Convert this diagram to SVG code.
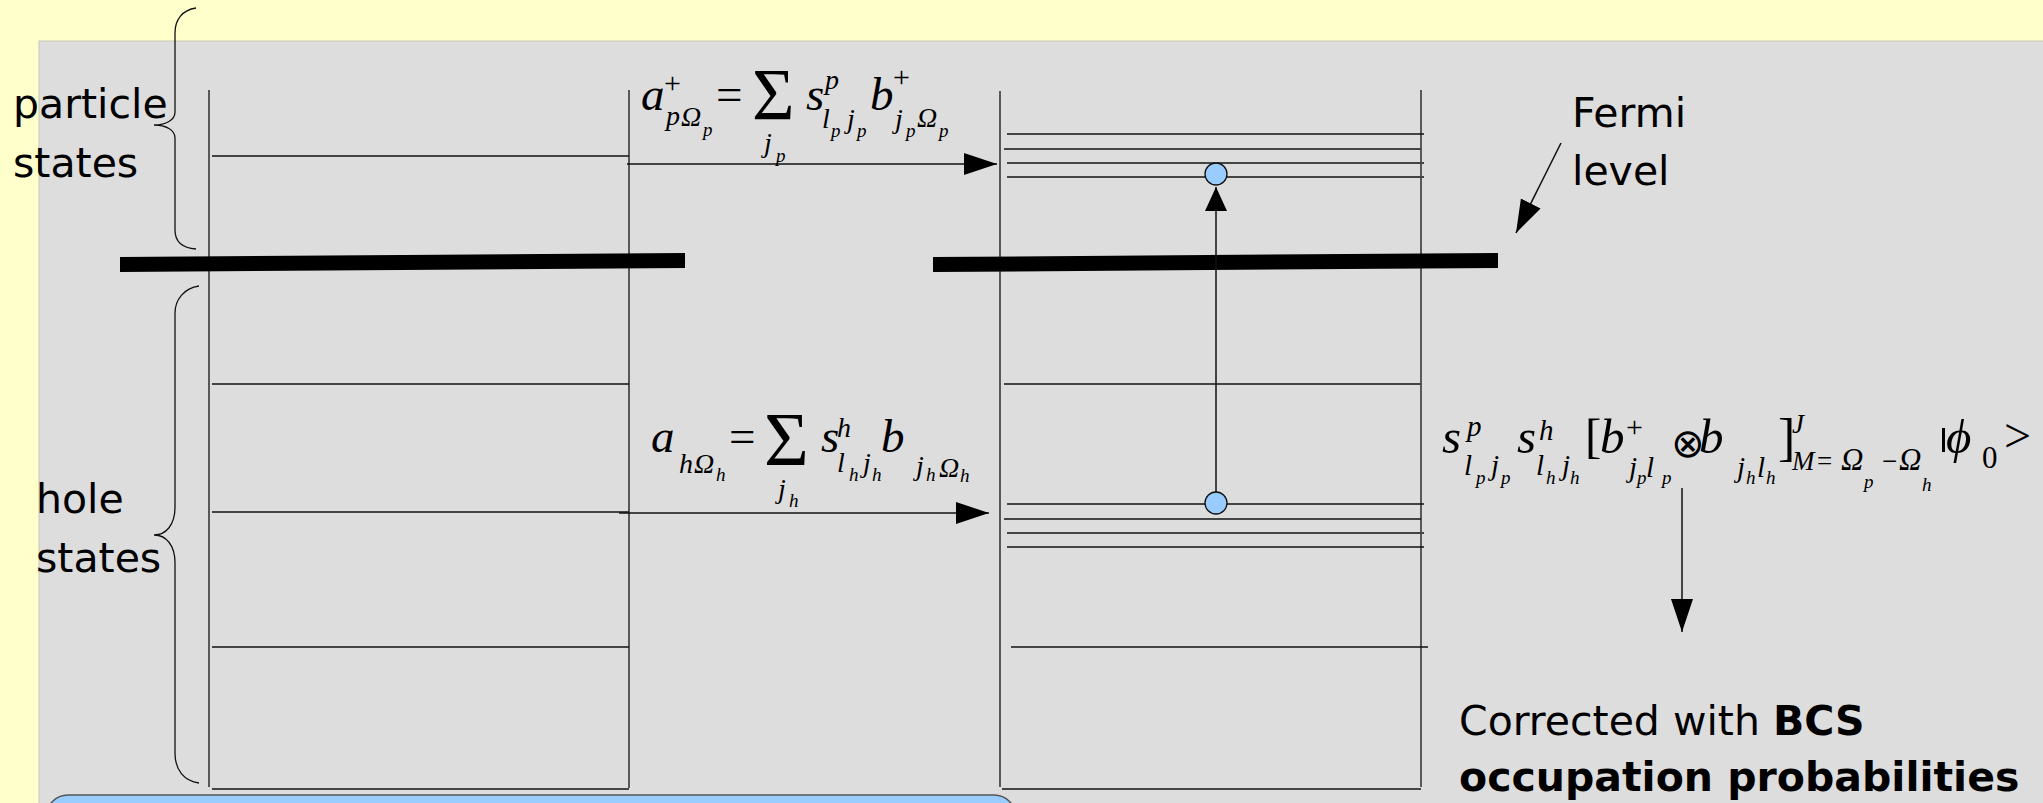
<svg xmlns="http://www.w3.org/2000/svg" width="2043" height="803" viewBox="0 0 2043 803">
<style>
.t{font-family:"DejaVu Sans",sans-serif;font-size:41px;fill:#000}
.bd{font-weight:bold}
.m{font-family:"Liberation Serif","DejaVu Serif",serif;font-style:italic;fill:#000}
.u{font-style:normal}
.ln{stroke:#111;stroke-width:1.3;fill:none}
.lg{stroke:#444;stroke-width:2;fill:none}
.br{stroke:#111;stroke-width:1.3;fill:none}
.bar{fill:#000}
.dot{fill:#99ccff;stroke:#111;stroke-width:1.3}
.ar{stroke:#111;stroke-width:1.5;fill:none}
</style>
<defs>
<marker id="ah" markerUnits="userSpaceOnUse" markerWidth="34" markerHeight="24" refX="33" refY="11" orient="auto">
<path d="M0,0 L33,11 L0,22 z" fill="#000"/>
</marker>
<marker id="ahs" markerUnits="userSpaceOnUse" markerWidth="26" markerHeight="24" refX="24" refY="11" orient="auto">
<path d="M0,0 L24,11 L0,22 z" fill="#000"/>
</marker>
</defs>
<rect x="0" y="0" width="2043" height="803" fill="#ffffcc"/>
<rect x="39" y="41" width="2010" height="770" fill="#dddddd" stroke="#c8c8b8" stroke-width="1"/>
<rect x="46" y="795" width="970" height="60" rx="22" fill="#99ccff" stroke="#555" stroke-width="1.5"/>

<g id="particle-label">
<text class="t" x="13" y="118">particle</text>
<text class="t" x="13" y="177">states</text>
<path class="br" d="M196,8 C182,10 175,20 175,33 L175,112 C175,120 166,125 154,125 C166,125 175,130 175,138 L175,230 C175,242 182,248 196,249"/>
</g>
<g id="hole-label">
<text class="t" x="36" y="513">hole</text>
<text class="t" x="36" y="572">states</text>
<path class="br" d="M199,286 C184,288 175,300 175,313 L175,507 C175,525 166,535 154,535 C166,535 175,545 175,563 L175,753 C175,770 184,781 199,783"/>
</g>

<g id="left-box">
<line class="ln" x1="209" y1="90" x2="209" y2="787"/>
<line class="ln" x1="629" y1="90" x2="629" y2="788"/>
<line class="ln" x1="212" y1="156" x2="629" y2="156"/>
<line class="ln" x1="212" y1="384" x2="629" y2="384" stroke-width="2"/>
<line class="ln" x1="212" y1="512" x2="629" y2="512"/>
<line class="ln" x1="212" y1="647" x2="629" y2="647"/>
<line class="ln" x1="212" y1="789" x2="629" y2="789" stroke-width="2"/>
<polygon class="bar" points="120,257 685,253 685,268 120,272"/>
</g>

<g id="right-box">
<line class="ln" x1="1000" y1="91" x2="1000" y2="787"/>
<line class="ln" x1="1421" y1="90" x2="1421" y2="787"/>
<line class="ln" x1="1007" y1="134" x2="1424" y2="134"/>
<line class="lg" x1="1004" y1="149" x2="1421" y2="149"/>
<line class="lg" x1="1007" y1="163" x2="1424" y2="163"/>
<line class="lg" x1="1007" y1="177" x2="1424" y2="177"/>
<line class="lg" x1="1004" y1="384" x2="1421" y2="384" stroke-width="1.5"/>
<line class="ln" x1="1007" y1="504" x2="1424" y2="504"/>
<line class="ln" x1="1004" y1="519" x2="1421" y2="519"/>
<line class="lg" x1="1007" y1="533" x2="1424" y2="533"/>
<line class="ln" x1="1007" y1="547" x2="1424" y2="547"/>
<line class="ln" x1="1011" y1="647" x2="1428" y2="647"/>
<line class="ln" x1="1002" y1="789" x2="1421" y2="789" stroke-width="2"/>
<polygon class="bar" points="933,257 1498,253 1498,268 933,272"/>
</g>

<g id="fermi-label">
<text class="t" x="1572" y="127">Fermi</text>
<text class="t" x="1572" y="185">level</text>
</g>

<g id="bcs-label">
<text class="t" x="1459" y="735" font-size="42">Corrected with <tspan class="bd">BCS</tspan></text>
<text class="t bd" x="1459" y="791">occupation probabilities</text>
</g>

<g id="connectors">
<line class="ar" x1="627" y1="164" x2="997" y2="164" marker-end="url(#ah)"/>
<line class="ar" x1="619" y1="513" x2="989" y2="513" marker-end="url(#ah)"/>
<line class="ar" x1="1216" y1="492" x2="1216" y2="187" marker-end="url(#ahs)"/>
<line class="ar" x1="1561" y1="143" x2="1516" y2="233" marker-end="url(#ah)"/>
<line class="ar" x1="1682" y1="488" x2="1682" y2="632" marker-end="url(#ah)"/>
</g>

<g id="particle-state">
<ellipse class="dot" cx="1216" cy="174" rx="11" ry="11"/>
</g>
<g id="hole-state">
<ellipse class="dot" cx="1216" cy="503" rx="11" ry="11"/>
</g>

<g id="eq-particle">
<text class="m" font-size="47" x="641" y="110">a</text>
<text class="m u" font-size="30" x="664" y="93">+</text>
<text class="m" font-size="28" x="666" y="125">p</text>
<text class="m" font-size="28" x="681" y="126">Ω</text>
<text class="m" font-size="19" x="703" y="136">p</text>
<text class="m u" font-size="47" x="716" y="110">=</text>
<text class="m u" font-size="73" x="752" y="120">Σ</text>
<text class="m" font-size="28" x="764" y="152">j</text>
<text class="m" font-size="19" x="776" y="162">p</text>
<text class="m" font-size="47" x="806" y="110">s</text>
<text class="m" font-size="28" x="825" y="89">p</text>
<text class="m" font-size="28" x="822" y="128">l</text>
<text class="m" font-size="19" x="831" y="137">p</text>
<text class="m" font-size="28" x="847" y="128">j</text>
<text class="m" font-size="19" x="857" y="137">p</text>
<text class="m" font-size="47" x="870" y="110">b</text>
<text class="m u" font-size="30" x="893" y="87">+</text>
<text class="m" font-size="28" x="895" y="128">j</text>
<text class="m" font-size="19" x="906" y="137">p</text>
<text class="m" font-size="28" x="917" y="127">Ω</text>
<text class="m" font-size="19" x="939" y="137">p</text>
</g>

<g id="eq-hole">
<text class="m" font-size="47" x="651" y="452">a</text>
<text class="m" font-size="28" x="679" y="473">h</text>
<text class="m" font-size="28" x="694" y="473">Ω</text>
<text class="m" font-size="19" x="716" y="481">h</text>
<text class="m u" font-size="47" x="729" y="452">=</text>
<text class="m u" font-size="77" x="764" y="465">Σ</text>
<text class="m" font-size="28" x="778" y="498">j</text>
<text class="m" font-size="19" x="789" y="507">h</text>
<text class="m" font-size="47" x="821" y="452">s</text>
<text class="m" font-size="28" x="837" y="437">h</text>
<text class="m" font-size="28" x="837" y="472">l</text>
<text class="m" font-size="19" x="849" y="481">h</text>
<text class="m" font-size="28" x="863" y="472">j</text>
<text class="m" font-size="19" x="872" y="481">h</text>
<text class="m" font-size="47" x="881" y="452">b</text>
<text class="m" font-size="28" x="916" y="475">j</text>
<text class="m" font-size="19" x="926" y="481">h</text>
<text class="m" font-size="28" x="939" y="477">Ω</text>
<text class="m" font-size="19" x="960" y="482">h</text>
</g>

<g id="eq-state">
<text class="m" font-size="49" x="1442" y="453">s</text>
<text class="m" font-size="29" x="1467" y="436">p</text>
<text class="m" font-size="29" x="1464" y="475">l</text>
<text class="m" font-size="19" x="1476" y="484">p</text>
<text class="m" font-size="29" x="1491" y="475">j</text>
<text class="m" font-size="19" x="1501" y="484">p</text>
<text class="m" font-size="49" x="1517" y="453">s</text>
<text class="m" font-size="29" x="1539" y="440">h</text>
<text class="m" font-size="29" x="1536" y="475">l</text>
<text class="m" font-size="19" x="1546" y="484">h</text>
<text class="m" font-size="29" x="1562" y="475">j</text>
<text class="m" font-size="19" x="1570" y="484">h</text>
<text class="m u" font-size="49" x="1585" y="452">[</text>
<text class="m" font-size="49" x="1600" y="453">b</text>
<text class="m u" font-size="30" x="1626" y="437">+</text>
<text class="m" font-size="29" x="1629" y="477">j</text>
<text class="m" font-size="19" x="1637" y="484">p</text>
<text class="m" font-size="29" x="1646" y="477">l</text>
<text class="m" font-size="19" x="1662" y="484">p</text>
<text font-family="'DejaVu Sans',sans-serif" font-size="40" x="1671" y="457" fill="#000">⊗</text>
<text class="m" font-size="49" x="1699" y="453">b</text>
<text class="m" font-size="29" x="1737" y="477">j</text>
<text class="m" font-size="19" x="1746" y="484">h</text>
<text class="m" font-size="29" x="1757" y="477">l</text>
<text class="m" font-size="19" x="1766" y="484">h</text>
<text class="m u" font-size="52" x="1778" y="455">]</text>
<text class="m" font-size="27" x="1792" y="433">J</text>
<text class="m" font-size="27" x="1792" y="470">M</text>
<text class="m u" font-size="27" x="1817" y="470">=</text>
<text class="m" font-size="31" x="1841" y="470">Ω</text>
<text class="m" font-size="19" x="1864" y="488">p</text>
<text class="m u" font-size="27" x="1882" y="470">−</text>
<text class="m" font-size="31" x="1899" y="470">Ω</text>
<text class="m" font-size="19" x="1922" y="491">h</text>
<line x1="1943.5" y1="428" x2="1943.5" y2="452" stroke="#000" stroke-width="3"/>
<text class="m" font-size="49" x="1946" y="453">ϕ</text>
<text class="m u" font-size="31" x="1982" y="468">0</text>
<text class="m u" font-size="48" x="2004" y="452">&gt;</text>
</g>
</svg>
